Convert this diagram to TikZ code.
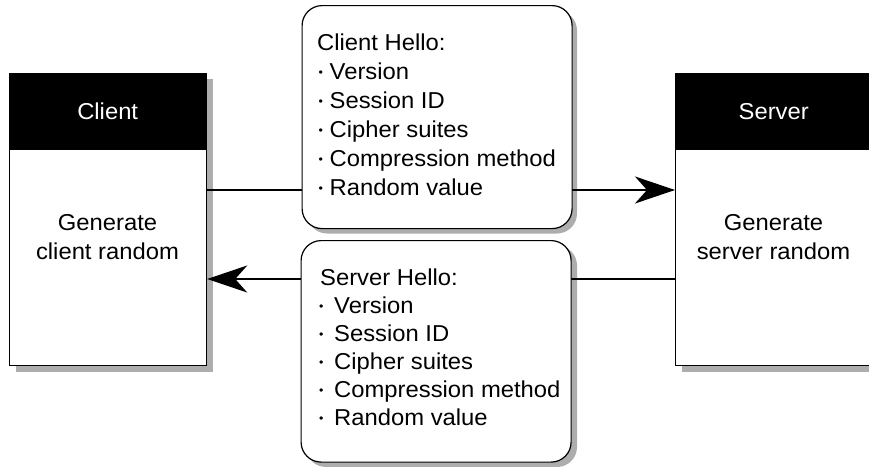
\documentclass[tikz,border=0pt]{standalone}
\usepackage{fontspec}
\setmainfont[FakeStretch=1.035]{Liberation Sans}
\usetikzlibrary{arrows.meta}

% small bullet used in the message lists
\newcommand\listdot[1]{\makebox[#1][l]{\hspace{1.5pt}\raisebox{2.6pt}{\fontsize{12}{12}\selectfont •}}}

\begin{document}
\begin{tikzpicture}[x=1pt,y=-1pt,
  txt/.style={font=\fontsize{23}{29}\selectfont},
  party/.style={draw=black,line width=1.2pt,fill=white,minimum width=197pt,minimum height=292pt,anchor=north west,inner sep=0pt},
  partyhead/.style={fill=black,text=white,minimum width=197pt,minimum height=77pt,anchor=north west,inner sep=0pt,txt},
  msgbox/.style={draw=black,line width=1.2pt,fill=white,rounded corners=20pt,minimum width=270pt,anchor=north west,inner sep=0pt},
  shade/.style={fill=black!32},
  link/.style={line width=2pt},
  tip/.style={-{Stealth[length=40pt,width=27pt,inset=12pt]}}
]
\useasboundingbox (0,0) rectangle (869,466);

% drop shadows
\fill[shade] (15.5,79) rectangle (212.5,371.5);
\fill[shade] (681.5,79) rectangle (878.5,371.5);
\fill[shade,rounded corners=20pt] (307,10.5) rectangle (577,233.5);
\fill[shade,rounded corners=20pt] (306,245.5) rectangle (577,467);

% the two parties
\node[party] (client) at (9,72.5) {};
\node[partyhead] (clienthead) at (9,72.5) {Client};
\node[txt,align=center] (clienttext) at (107.5,237) {Generate\\client random};

\node[party] (server) at (675,72.5) {};
\node[partyhead] (serverhead) at (675,72.5) {Server};
\node[txt,align=center] (servertext) at (773.5,237) {Generate\\server random};

% message levels
\coordinate (upper) at (0,190);
\coordinate (lower) at (0,279);

\draw[link,tip] (client.east |- upper) -- (server.west |- upper);
\draw[link,tip] (server.west |- lower) -- (client.east |- lower);

% message boxes
\node[msgbox,minimum height=223pt] (chello) at (301.5,5) {};
\node[txt,align=left,anchor=north west,inner sep=0pt] (chellotext) at (317,33.5)
  {Client Hello:\\
   \listdot{12.5pt}Version\\
   \listdot{12.5pt}Session ID\\
   \listdot{12.5pt}Cipher suites\\
   \listdot{12.5pt}Compression method\\
   \listdot{12.5pt}Random value};

\node[msgbox,minimum height=221.5pt] (shello) at (300.5,240) {};
\node[txt,font=\fontsize{23}{28}\selectfont,align=left,anchor=north west,inner sep=0pt] (shellotext) at (317.5,268.5)
  {\hspace{2.5pt}Server Hello:\\
   \listdot{16.5pt}Version\\
   \listdot{16.5pt}Session ID\\
   \listdot{16.5pt}Cipher suites\\
   \listdot{16.5pt}Compression method\\
   \listdot{16.5pt}Random value};
\end{tikzpicture}
\end{document}
